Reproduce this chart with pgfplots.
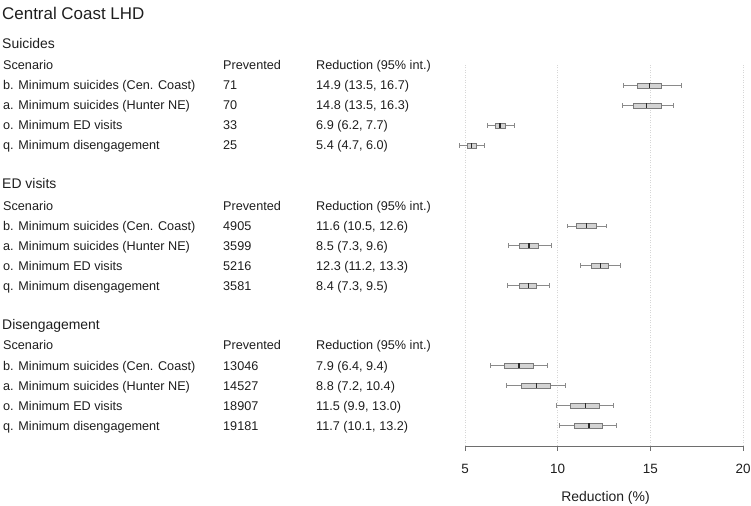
\documentclass[border=0pt]{standalone}
\usepackage{pgfplots}
\pgfplotsset{compat=1.18}
\usepgfplotslibrary{statistics}
\usepackage{fontspec}
\setmainfont{Liberation Sans}
\definecolor{boxfill}{HTML}{D3D3D3}
\definecolor{boxline}{HTML}{7A7A7A}
\definecolor{whisk}{HTML}{8A8A8A}
\definecolor{medc}{HTML}{2A2A2A}
\definecolor{axgray}{HTML}{6E6E6E}
\definecolor{gridc}{HTML}{D6D6D6}
\definecolor{txt}{HTML}{1E1E1E}
\newcommand{\bodyf}{\fontsize{12.7}{15}\selectfont}
\newcommand{\headf}{\fontsize{14}{17}\selectfont}
\newcommand{\titlef}{\fontsize{17}{20}\selectfont}
\pgfplotsset{
  bx/.style={
    boxplot/draw direction=x,
    boxplot/box extend=5,
    boxplot/whisker extend=4.5,
    draw=boxline, line width=0.8bp,
    boxplot/every box/.style={draw=boxline, fill=boxfill, line width=0.8bp},
    boxplot/every whisker/.style={draw=whisk, line width=0.8bp},
    boxplot/every median/.style={draw=medc, line width=1.3bp},
  }
}
\begin{document}
\begin{tikzpicture}[x=1bp,y=1bp]
\useasboundingbox (0,0) rectangle (751,506);
\begin{axis}[
  at={(465bp,60bp)}, anchor=south west,
  scale only axis, width=278bp, height=381bp,
  xmin=5, xmax=20, ymin=60, ymax=441,
  clip=false,
  axis x line*=bottom, axis y line=none,
  axis line style={draw=axgray, line width=0.8bp, -},
  xtick={5,10,15,20}, ytick=\empty,
  tick align=outside, major tick length=5bp,
  tick style={draw=axgray, line width=0.8bp},
  xmajorgrids, grid style={gridc, dash pattern=on 1bp off 1.5bp, line width=0.8bp},
  /pgf/number format/assume math mode=true,
  xticklabel style={font=\fontsize{13.5}{16}\selectfont, text=txt, yshift=-10bp},
]
% Suicides
\addplot[bx, boxplot prepared={lower whisker=13.52, lower quartile=14.29, median=14.97, upper quartile=15.62, upper whisker=16.70, draw position=420.3}] coordinates {};
\addplot[bx, boxplot prepared={lower whisker=13.48, lower quartile=14.06, median=14.81, upper quartile=15.62, upper whisker=16.27, draw position=400.3}] coordinates {};
\addplot[bx, boxplot prepared={lower whisker=6.19, lower quartile=6.65, median=6.89, upper quartile=7.16, upper whisker=7.68, draw position=380.3}] coordinates {};
\addplot[bx, boxplot prepared={lower whisker=4.70, lower quartile=5.11, median=5.36, upper quartile=5.61, upper whisker=6.02, draw position=360.3}] coordinates {};
% ED visits
\addplot[bx, boxplot prepared={lower whisker=10.52, lower quartile=11.02, median=11.56, upper quartile=12.08, upper whisker=12.65, draw position=280.0}] coordinates {};
\addplot[bx, boxplot prepared={lower whisker=7.34, lower quartile=7.95, median=8.45, upper quartile=8.96, upper whisker=9.64, draw position=260.3}] coordinates {};
\addplot[bx, boxplot prepared={lower whisker=11.20, lower quartile=11.83, median=12.30, upper quartile=12.75, upper whisker=13.38, draw position=240.3}] coordinates {};
\addplot[bx, boxplot prepared={lower whisker=7.30, lower quartile=7.95, median=8.43, upper quartile=8.87, upper whisker=9.53, draw position=220.3}] coordinates {};
% Disengagement
\addplot[bx, boxplot prepared={lower whisker=6.37, lower quartile=7.10, median=7.91, upper quartile=8.69, upper whisker=9.42, draw position=140.3}] coordinates {};
\addplot[bx, boxplot prepared={lower whisker=7.21, lower quartile=8.02, median=8.85, upper quartile=9.60, upper whisker=10.41, draw position=120.3}] coordinates {};
\addplot[bx, boxplot prepared={lower whisker=9.93, lower quartile=10.71, median=11.50, upper quartile=12.24, upper whisker=13.03, draw position=100.3}] coordinates {};
\addplot[bx, boxplot prepared={lower whisker=10.07, lower quartile=10.88, median=11.69, upper quartile=12.41, upper whisker=13.19, draw position=80.3}] coordinates {};
\end{axis}
% axis label
\node[anchor=base, inner sep=0, text=txt, font=\fontsize{14}{17}\selectfont] at (605.5,4) {Reduction (\%)};
% title
\node[anchor=base west, inner sep=0, text=txt, font=\titlef] at (2,486) {Central Coast LHD};
% Sections
\begin{scope}[every node/.style={anchor=base west, inner sep=0, text=txt, font=\bodyf}]
% Suicides
\node[font=\headf] at (2,457) {Suicides};
\node at (3,436.5) {Scenario};
\node at (223,436.5) {Prevented};
\node at (316,436.5) {Reduction (95\% int.)};
\node at (3,416.5) {b. Minimum suicides (Cen. Coast)};
\node at (223,416.5) {71};
\node at (316,416.5) {14.9 (13.5, 16.7)};
\node at (3,396.5) {a. Minimum suicides (Hunter NE)};
\node at (223,396.5) {70};
\node at (316,396.5) {14.8 (13.5, 16.3)};
\node at (3,376.5) {o. Minimum ED visits};
\node at (223,376.5) {33};
\node at (316,376.5) {6.9 (6.2, 7.7)};
\node at (3,356.5) {q. Minimum disengagement};
\node at (223,356.5) {25};
\node at (316,356.5) {5.4 (4.7, 6.0)};
% ED visits
\node[font=\headf] at (2,317) {ED visits};
\node at (3,295.5) {Scenario};
\node at (223,295.5) {Prevented};
\node at (316,295.5) {Reduction (95\% int.)};
\node at (3,275.5) {b. Minimum suicides (Cen. Coast)};
\node at (223,275.5) {4905};
\node at (316,275.5) {11.6 (10.5, 12.6)};
\node at (3,255.5) {a. Minimum suicides (Hunter NE)};
\node at (223,255.5) {3599};
\node at (316,255.5) {8.5 (7.3, 9.6)};
\node at (3,235.5) {o. Minimum ED visits};
\node at (223,235.5) {5216};
\node at (316,235.5) {12.3 (11.2, 13.3)};
\node at (3,215.5) {q. Minimum disengagement};
\node at (223,215.5) {3581};
\node at (316,215.5) {8.4 (7.3, 9.5)};
% Disengagement
\node[font=\headf] at (2,176) {Disengagement};
\node at (3,156.5) {Scenario};
\node at (223,156.5) {Prevented};
\node at (316,156.5) {Reduction (95\% int.)};
\node at (3,135.5) {b. Minimum suicides (Cen. Coast)};
\node at (223,135.5) {13046};
\node at (316,135.5) {7.9 (6.4, 9.4)};
\node at (3,115.5) {a. Minimum suicides (Hunter NE)};
\node at (223,115.5) {14527};
\node at (316,115.5) {8.8 (7.2, 10.4)};
\node at (3,95.5) {o. Minimum ED visits};
\node at (223,95.5) {18907};
\node at (316,95.5) {11.5 (9.9, 13.0)};
\node at (3,75.5) {q. Minimum disengagement};
\node at (223,75.5) {19181};
\node at (316,75.5) {11.7 (10.1, 13.2)};
\end{scope}
\end{tikzpicture}
\end{document}
